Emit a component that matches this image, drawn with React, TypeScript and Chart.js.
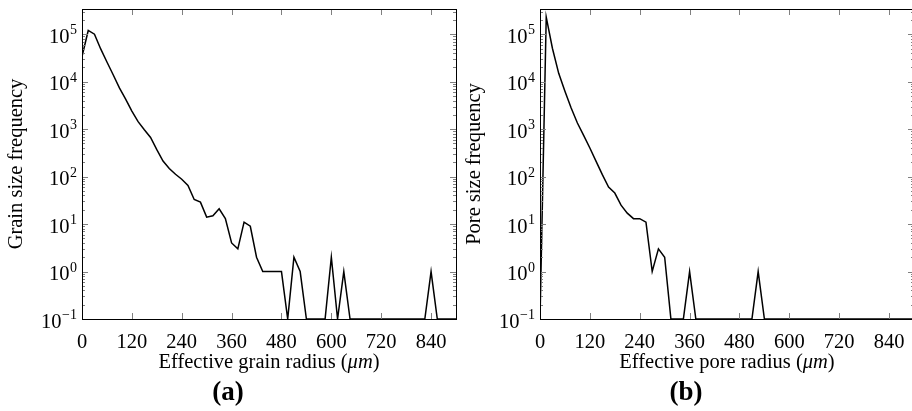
import React, { useEffect, useRef } from 'react';
import { Chart, registerables } from 'chart.js';

Chart.register(...registerables);

// ---------- data ----------
const RADII = [
  0, 15, 30, 45, 60, 75, 90, 105, 120, 135, 150, 165, 180, 195, 210, 225, 240, 255, 270, 285,
  300, 315, 330, 345, 360, 375, 390, 405, 420, 435, 450, 465, 480, 495, 510, 525, 540, 555, 570, 585,
  600, 615, 630, 645, 660, 675, 690, 705, 720, 735, 750, 765, 780, 795, 810, 825, 840, 855, 870, 885, 900,
];

const GRAIN_FREQ = [
  34000, 120000, 100000, 49000, 26000, 14000, 7400, 4300, 2400, 1440,
  970, 670, 370, 213, 148, 112, 88, 65, 33, 29,
  14, 15, 21, 13, 4, 3, 11, 9, 2, 1,
  1, 1, 1, 0, 2, 1, 0, 0, 0, 0,
  2, 0, 1, 0, 0, 0, 0, 0, 0, 0,
  0, 0, 0, 0, 0, 0, 1, 0, 0, 0, 0,
];

const PORE_FREQ = [
  0, 230000, 50000, 15000, 6300, 2800, 1350, 740, 400, 210,
  110, 60, 45, 25, 17, 13, 13, 11, 1, 3,
  2, 0, 0, 0, 1, 0, 0, 0, 0, 0,
  0, 0, 0, 0, 0, 1, 0, 0, 0, 0,
  0, 0, 0, 0, 0, 0, 0, 0, 0, 0,
  0, 0, 0, 0, 0, 0, 0, 0, 0, 0, 0,
];

const X_TICKS = [0, 120, 240, 360, 480, 600, 720, 840];
const X_MIN = 0;
const X_MAX = 900;
const Y_TICK_EXPONENTS = [-1, 0, 1, 2, 3, 4, 5];
const Y_MIN = 0.1;
const Y_MAX = 340000;

// ---------- styling ----------
const FONT = '"Liberation Serif", "Times New Roman", serif';
const FS = 20.5;
const FS_EXP = 14;

const axesPlugin = {
  id: 'pgfAxes',
  afterDatasetsDraw(chart: any, _args: any, opts: any) {
    const { ctx, chartArea: ca, scales } = chart;
    const xs = scales.x;
    const ys = scales.y;
    ctx.save();

    // inward ticks
    ctx.strokeStyle = '#808080';
    ctx.lineWidth = 1;
    ctx.beginPath();
    for (const v of X_TICKS) {
      const px = Math.round(xs.getPixelForValue(v)) + 0.5;
      ctx.moveTo(px, ca.bottom);
      ctx.lineTo(px, ca.bottom - 6);
      ctx.moveTo(px, ca.top);
      ctx.lineTo(px, ca.top + 6);
    }
    for (const e of Y_TICK_EXPONENTS) {
      for (let m = 1; m <= 9; m++) {
        const v = m * Math.pow(10, e);
        if (v > Y_MAX) break;
        const py = Math.round(ys.getPixelForValue(v)) + 0.5;
        const len = m === 1 ? 6 : 3;
        ctx.moveTo(ca.left, py);
        ctx.lineTo(ca.left + len, py);
        ctx.moveTo(ca.right, py);
        ctx.lineTo(ca.right - len, py);
      }
    }
    ctx.stroke();

    // frame
    ctx.strokeStyle = '#000';
    ctx.lineWidth = 1;
    const l = Math.round(ca.left) + 0.5;
    const t = Math.round(ca.top) + 0.5;
    const r = Math.round(ca.right) + 0.5;
    const b = Math.round(ca.bottom) + 0.5;
    ctx.strokeRect(l, t, r - l, b - t);

    // y tick labels 10^n
    ctx.fillStyle = '#000';
    ctx.textAlign = 'right';
    ctx.textBaseline = 'middle';
    for (const e of Y_TICK_EXPONENTS) {
      const py = ys.getPixelForValue(Math.pow(10, e));
      const expText = e < 0 ? '\u2212' + Math.abs(e) : String(e);
      const xEnd = ca.left - 5;
      ctx.font = `${FS_EXP}px ${FONT}`;
      const ew = ctx.measureText(expText).width;
      ctx.fillText(expText, xEnd, py - 3.5);
      ctx.font = `${FS}px ${FONT}`;
      ctx.fillText('10', xEnd - ew - 0.5, py + 3.4);
    }

    // x axis title with italic unit
    const main = opts.xTitle + ' (';
    ctx.textAlign = 'left';
    ctx.font = `${FS}px ${FONT}`;
    const w1 = ctx.measureText(main).width;
    ctx.font = `italic ${FS}px ${FONT}`;
    const w2 = ctx.measureText('\u03bcm').width;
    ctx.font = `${FS}px ${FONT}`;
    const w3 = ctx.measureText(')').width;
    let x = (ca.left + ca.right) / 2 - (w1 + w2 + w3) / 2;
    const y = ca.bottom + 44;
    ctx.fillText(main, x, y);
    x += w1;
    ctx.font = `italic ${FS}px ${FONT}`;
    ctx.fillText('\u03bcm', x, y);
    x += w2;
    ctx.font = `${FS}px ${FONT}`;
    ctx.fillText(')', x, y);

    ctx.restore();
  },
};

function Panel(props: { left: number; freq: number[]; yTitle: string; xTitle: string; letter: string }) {
  const ref = useRef<HTMLCanvasElement>(null);
  useEffect(() => {
    const points = RADII.map((r, i) => ({ x: r, y: props.freq[i] === 0 ? Y_MIN : props.freq[i] }));
    const chart = new Chart(ref.current as HTMLCanvasElement, {
      type: 'line',
      data: {
        datasets: [
          {
            data: points,
            borderColor: '#000',
            borderWidth: 1.5,
            pointRadius: 0,
            tension: 0,
            fill: false,
          },
        ],
      },
      options: {
        animation: false,
        responsive: false,
        devicePixelRatio: 1,
        events: [],
        layout: { padding: { left: 0, top: 9, right: 4, bottom: 4 } },
        plugins: {
          legend: { display: false },
          tooltip: { enabled: false },
          title: {
            display: true,
            position: 'bottom',
            text: props.letter,
            color: '#000',
            font: { family: FONT, size: 27, weight: 'bold', lineHeight: 1 },
            padding: { top: 0, bottom: 0 },
          },
          pgfAxes: { xTitle: props.xTitle },
        } as any,
        scales: {
          x: {
            type: 'linear',
            min: X_MIN,
            max: X_MAX,
            grid: { display: false },
            border: { display: false },
            ticks: {
              color: '#000',
              font: { family: FONT, size: FS },
              padding: 3,
              maxRotation: 0,
              autoSkip: false,
            },
            afterBuildTicks: (s: any) => {
              s.ticks = X_TICKS.map((v) => ({ value: v }));
            },
            afterFit: (s: any) => {
              s.height = 61;
            },
          },
          y: {
            type: 'logarithmic',
            min: Y_MIN,
            max: Y_MAX,
            grid: { display: false },
            border: { display: false },
            ticks: { display: false },
            title: {
              display: true,
              text: props.yTitle,
              color: '#000',
              font: { family: FONT, size: FS },
              padding: { top: 4, bottom: 0 },
            },
            afterFit: (s: any) => {
              s.width = 82;
            },
          },
        },
      } as any,
      plugins: [axesPlugin as any],
    });
    return () => chart.destroy();
  }, []);
  return (
    <canvas
      ref={ref}
      width={460}
      height={411}
      style={{ position: 'absolute', left: props.left, top: 0, width: 460, height: 411 }}
    />
  );
}

export default function App() {
  return (
    <div
      style={{
        position: 'fixed',
        left: 0,
        top: 0,
        width: 912,
        height: 411,
        overflow: 'hidden',
        background: '#fff',
      }}
    >
      <Panel left={0} freq={GRAIN_FREQ} yTitle="Grain size frequency" xTitle="Effective grain radius" letter="(a)" />
      <Panel left={458} freq={PORE_FREQ} yTitle="Pore size frequency" xTitle="Effective pore radius" letter="(b)" />
    </div>
  );
}
